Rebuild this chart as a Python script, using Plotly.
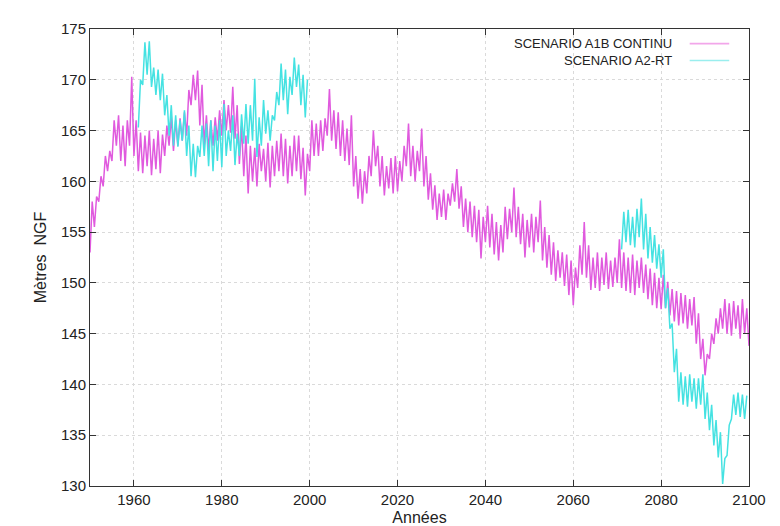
import plotly.graph_objects as go

# ── Data (yearly troughs / peaks) ────────────────────────────────────────────
YEARS_A1B = list(range(1950, 2100))

A1B_LOW = [
    153.0, 155.5, 158.0, 159.5, 161.0, 162.0, 163.5, 162.0, 161.5, 163.5,
    162.5, 161.0, 160.8, 161.5, 160.6, 161.2, 160.8, 162.5, 163.5, 163.0,
    163.5, 164.0, 164.5, 167.5, 168.0, 165.5, 163.5, 163.0, 163.5, 164.0,
    164.5, 165.0, 164.8, 164.2, 161.7, 160.5, 158.8, 160.0, 159.5, 161.0,
    160.0, 159.4, 160.5, 161.0, 160.5, 159.8, 160.5, 161.0, 160.2, 158.6,
    161.0, 162.5, 162.5, 163.0, 164.5, 164.0, 163.2, 162.5, 162.0, 161.6,
    159.5, 158.3, 157.8, 158.8, 160.5, 161.5, 159.5, 158.6, 159.3, 158.8,
    159.0, 160.0, 161.5, 160.5, 160.0, 161.0, 159.5, 158.2, 157.2, 156.2,
    156.5, 156.2, 157.6, 158.0, 157.3, 155.5, 155.0, 154.5, 154.0, 152.4,
    154.0, 153.5, 152.8, 152.2, 153.0, 154.3, 155.0, 154.5, 153.8, 152.5,
    153.5, 153.0, 154.0, 152.2, 151.5, 150.8, 150.2, 150.5, 149.7, 148.8,
    147.8, 149.5, 150.8, 150.5, 149.3, 149.5, 149.2, 149.8, 149.4, 149.6,
    150.0, 149.5, 149.2, 149.0, 148.8, 149.5, 149.0, 148.4, 147.8, 147.5,
    147.4, 147.5, 146.8, 146.2, 145.8, 146.0, 145.5, 145.8, 144.0, 142.5,
    140.9, 142.5, 144.0, 145.0, 145.5, 145.0, 144.8, 145.5, 144.5, 145.0,
]
A1B_HIGH = [
    158.0, 158.5, 160.5, 162.5, 163.0, 166.0, 166.5, 165.5, 166.0, 170.3,
    166.0, 164.8, 164.5, 165.0, 164.2, 165.0, 164.6, 165.5, 166.4, 166.0,
    166.2, 166.8, 169.0, 170.5, 170.9, 169.5, 166.5, 166.0, 166.3, 167.0,
    168.0, 167.5, 169.3, 167.5, 165.5, 164.5, 163.5, 163.3, 163.7, 163.2,
    163.8, 163.5, 164.0, 164.7, 164.2, 163.5, 164.5, 164.5, 163.3, 162.7,
    166.0, 165.7, 166.0, 166.2, 169.1, 167.0, 166.8, 166.0, 165.2, 166.5,
    162.5, 161.2, 161.0, 162.5, 165.0, 163.5, 162.5, 161.5, 162.3, 162.5,
    162.0, 163.5, 165.7, 163.5, 163.0, 165.2, 162.5, 160.8, 159.6, 158.8,
    159.2, 158.8, 159.8, 161.2, 159.5, 158.3, 158.0, 157.6, 157.2, 156.5,
    157.6, 156.8, 156.0, 155.7, 157.5, 157.3, 159.4, 157.5, 156.8, 156.2,
    156.8, 156.5, 158.1, 155.5, 154.7, 154.0, 153.2, 153.0, 152.8, 152.2,
    151.5, 153.7, 156.0, 153.7, 152.5, 153.0, 152.5, 153.0, 152.2, 152.5,
    154.3, 153.0, 152.5, 152.8, 152.2, 152.5, 151.8, 151.4, 151.0, 150.5,
    150.8, 150.1, 149.4, 149.2, 149.0, 148.8, 148.4, 148.6, 147.0, 144.5,
    143.0, 145.0, 146.5, 147.5, 148.4, 148.0, 148.2, 147.8, 148.4, 147.5,
]
A1B_LAST_YEAR = 2100
A1B_LAST_VALUE = 143.8

# A2-RT only exists on two time slices
YEARS_RT_1 = list(range(1961, 2000))
RT_LOW_1 = [
    165.3, 169.5, 170.5, 169.3, 168.5, 168.0, 166.5, 164.5, 163.5, 163.4,
    164.0, 162.5, 160.5, 160.4, 162.4, 162.5, 161.5, 161.0, 162.0, 161.4,
    162.5, 163.0, 161.6, 162.5, 163.7, 163.7, 164.0, 162.4, 163.5, 164.7,
    164.0, 166.0, 167.5, 168.0, 166.6, 168.5, 169.3, 167.5, 166.3,
]
RT_HIGH_1 = [
    170.0, 173.7, 173.8, 171.2, 171.0, 170.6, 168.5, 167.5, 166.5, 166.0,
    167.0, 165.5, 163.7, 163.5, 165.5, 165.7, 166.0, 165.5, 166.0, 167.6,
    165.0, 166.5, 164.7, 166.6, 167.6, 167.5, 170.1, 166.3, 168.0, 167.0,
    166.5, 168.8, 171.6, 171.0, 170.3, 172.2, 171.5, 170.5, 170.0,
]

YEARS_RT_2 = list(range(2071, 2100))
RT_LOW_2 = [
    153.3, 154.0, 153.7, 153.5, 154.5, 153.3, 152.4, 152.0, 151.4, 150.5,
    147.5, 145.5, 141.2, 138.3, 138.0, 137.8, 138.3, 137.6, 138.0, 136.6,
    135.5, 134.0, 132.8, 130.2, 133.0, 136.6, 137.0, 136.8, 136.6,
]
RT_HIGH_2 = [
    157.0, 157.2, 156.5, 157.3, 158.3, 156.8, 155.5, 154.7, 153.8, 153.3,
    149.5, 146.0, 143.5, 141.2, 140.8, 141.0, 140.6, 140.6, 141.0, 139.2,
    138.0, 136.5, 135.3, 132.7, 136.0, 139.0, 139.2, 139.0, 138.9,
]

MAGENTA = "#e05ade"
CYAN = "#45e2e2"
FONT = "Liberation Sans, Arial, sans-serif"


def _zigzag(years, low, high):
    """Trough at the start of each year, peak half a year later."""
    xs, ys = [], []
    for yr, lo, hi in zip(years, low, high):
        xs += [yr, yr + 0.5]
        ys += [lo, hi]
    return xs, ys


x_a1b, y_a1b = _zigzag(YEARS_A1B, A1B_LOW, A1B_HIGH)
x_a1b.append(A1B_LAST_YEAR)
y_a1b.append(A1B_LAST_VALUE)
x1, y1 = _zigzag(YEARS_RT_1, RT_LOW_1, RT_HIGH_1)
x2, y2 = _zigzag(YEARS_RT_2, RT_LOW_2, RT_HIGH_2)
x_rt = x1 + [None] + x2
y_rt = y1 + [None] + y2

fig = go.Figure()
fig.add_trace(go.Scatter(
    x=x_a1b, y=y_a1b, mode="lines", name="SCENARIO A1B CONTINU",
    line=dict(color=MAGENTA, width=1.5), showlegend=False,
))
fig.add_trace(go.Scatter(
    x=x_rt, y=y_rt, mode="lines", name="SCENARIO A2-RT",
    line=dict(color=CYAN, width=1.5), connectgaps=False, showlegend=False,
))

# gnuplot-style key: right aligned text, sample line to its right
for i, (label, col) in enumerate([("SCENARIO A1B CONTINU", "#f2a6ea"),
                                  ("SCENARIO A2-RT", "#9aeeee")]):
    yy = 0.968 - i * 0.037
    fig.add_annotation(
        text=label, xref="paper", yref="paper", x=0.886, y=yy,
        xanchor="right", yanchor="middle", showarrow=False,
        font=dict(family=FONT, size=13, color="#222"),
    )
    fig.add_shape(type="line", xref="paper", yref="paper",
                  x0=0.91, x1=0.97, y0=yy, y1=yy,
                  line=dict(color=col, width=1.6))

axis_common = dict(
    showline=True, linecolor="#333", linewidth=1, mirror="allticks",
    ticks="inside", ticklen=6, tickcolor="#333",
    showgrid=True, gridcolor="#dadada", griddash="dot", gridwidth=1,
    zeroline=False, tickfont=dict(family=FONT, size=15, color="#222"),
)

fig.update_layout(
    width=780, height=526,
    plot_bgcolor="white", paper_bgcolor="white",
    font=dict(family=FONT, size=15, color="#222"),
    margin=dict(l=82, r=39, t=21, b=48),
    xaxis=dict(range=[1950, 2100], tickvals=list(range(1960, 2101, 20)),
               title=dict(text="Années", standoff=4, font=dict(size=16)),
               **axis_common),
    yaxis=dict(range=[130, 175], dtick=5,
               title=dict(text="Mètres  NGF", standoff=10, font=dict(size=16)),
               **axis_common),
)

fig.write_html("out.html")
